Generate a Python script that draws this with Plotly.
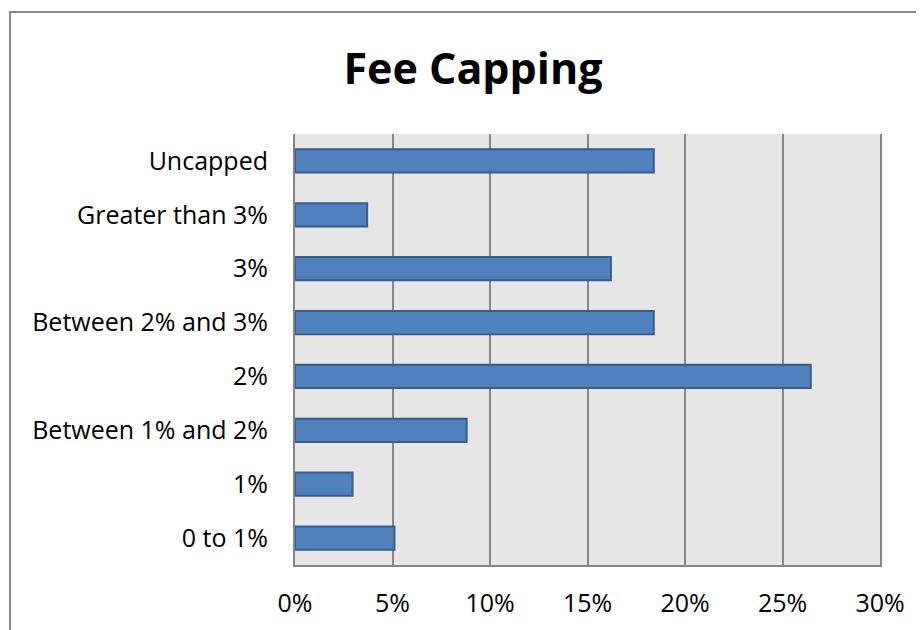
import plotly.graph_objects as go

categories = ["0 to 1%", "1%", "Between 1% and 2%", "2%",
              "Between 2% and 3%", "3%", "Greater than 3%", "Uncapped"]
shares = [5.1, 2.95, 8.8, 26.45, 18.4, 16.2, 3.7, 18.4]
xticks = [0, 5, 10, 15, 20, 25, 30]
xticktext = ["%d%%" % v for v in xticks]

FONT = "Open Sans"

fig = go.Figure()
fig.add_trace(go.Bar(
    x=shares,
    y=categories,
    orientation="h",
    marker=dict(color="#4f81bd", line=dict(color="#385d8a", width=2)),
    hoverinfo="x+y",
))

# page body adds an 8px margin, so the figure is sized 916x622
fig.update_layout(
    width=916, height=622,
    margin=dict(l=287, r=44, t=126, b=65),
    paper_bgcolor="white",
    plot_bgcolor="#e6e6e6",
    bargap=0.57,
    showlegend=False,
    font=dict(family=FONT, size=25, color="black"),
    title=dict(text="<b>Fee Capping</b>", x=0.5076, xref="container",
               xanchor="center", y=0.902, yanchor="middle",
               font=dict(family=FONT, size=43, color="black")),
    xaxis=dict(range=[0, 30], tickvals=xticks, ticktext=xticktext,
               showgrid=True, gridcolor="#868686", gridwidth=2,
               showline=True, linecolor="#868686", linewidth=2,
               zeroline=False, ticks="", ticklabelstandoff=15,
               fixedrange=True),
    yaxis=dict(showline=True, linecolor="#868686", linewidth=2, mirror=True,
               showgrid=False, ticks="", ticklabelstandoff=20,
               fixedrange=True),
)

# outer chart frame (extends past the right and bottom edges like the original)
fig.add_shape(type="rect", xref="paper", yref="paper",
              x0=(10 - 295) / 585, x1=(940 - 295) / 585,
              y0=(565 - 650) / 431, y1=(565 - 12) / 431,
              line=dict(color="#868686", width=2), fillcolor="rgba(0,0,0,0)",
              layer="below")

fig.write_html("out.html")
